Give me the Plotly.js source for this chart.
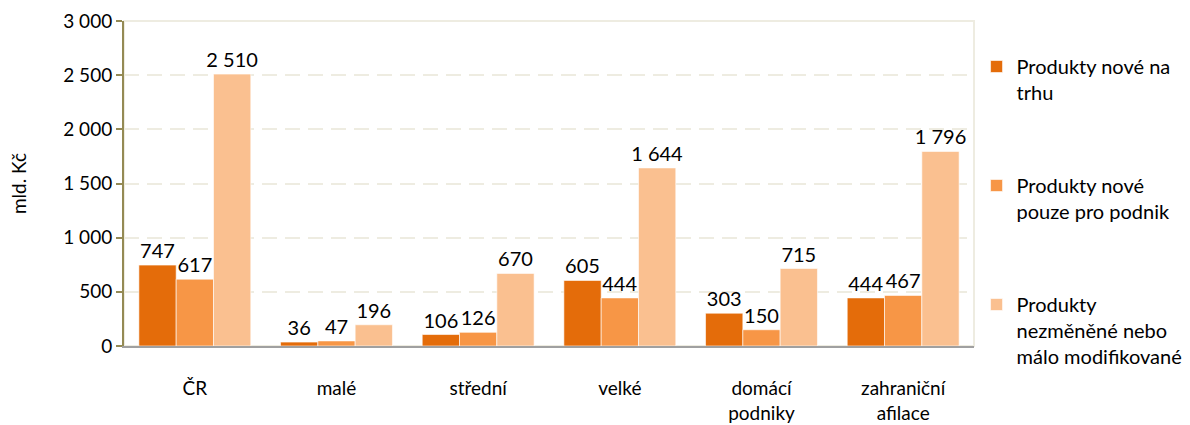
<!DOCTYPE html>
<html>
<head>
<meta charset="utf-8">
<script src="https://cdn.plot.ly/plotly-3.0.1.min.js"></script>
<style>html,body{margin:0;padding:0;background:#fff;}#chart{width:1190px;height:425px;}</style>
</head>
<body>
<div id="chart"></div>
<script>
const categories = ["ČR", "malé", "střední", "velké", "domácí<br>podniky", "zahraniční<br>afilace"];
const seriesNames = ["Produkty nové na<br>trhu", "Produkty nové<br>pouze pro podnik", "Produkty<br>nezměněné nebo<br>málo modifikované"];
const noveNaTrhu = [747, 36, 106, 605, 303, 444];
const novePouzeProPodnik = [617, 47, 126, 444, 150, 467];
const nezmenene = [2510, 196, 670, 1644, 715, 1796];
const yTicks = [0, 500, 1000, 1500, 2000, 2500, 3000];

const colors = ["#E46C0A", "#F79646", "#FAC090"];
const fontFamily = "Lato, 'Open Sans', sans-serif";
const seriesValues = [noveNaTrhu, novePouzeProPodnik, nezmenene];

const traces = seriesValues.map((vals, i) => ({
  type: "bar",
  x: categories,
  y: vals,
  name: seriesNames[i],
  legendgroup: "g" + i,
  marker: {color: colors[i], line: {color: "rgba(255,255,255,0.6)", width: 1}},
  texttemplate: "%{y:,}",
  textposition: "outside",
  constraintext: "none",
  cliponaxis: false,
  textfont: {family: fontFamily, size: 20, color: "#000"},
  hoverinfo: "skip"
}));

const layout = {
  width: 1190,
  height: 425,
  margin: {l: 124, r: 216, t: 21, b: 79, autoexpand: false},
  paper_bgcolor: "#fff",
  plot_bgcolor: "#fff",
  separators: ", ",
  font: {family: fontFamily, size: 19, color: "#000"},
  barmode: "group",
  bargap: 0.21,
  bargroupgap: 0,
  showlegend: true,
  legend: {
    x: 1.003, xanchor: "left",
    y: 0.92, yanchor: "top",
    traceorder: "grouped",
    tracegroupgap: 64,
    valign: "top",
    font: {family: fontFamily, size: 20, color: "#000"},
    bgcolor: "rgba(0,0,0,0)"
  },
  xaxis: {
    type: "category",
    showline: true,
    linecolor: "#A0A0A0",
    linewidth: 2,
    ticks: "",
    showgrid: false,
    tickfont: {family: fontFamily, size: 19, color: "#000"},
    ticklabelstandoff: 24,
    fixedrange: true
  },
  yaxis: {
    range: [0, 3000],
    tickvals: yTicks,
    tickformat: ",d",
    showline: true,
    linecolor: "#948A54",
    linewidth: 2,
    ticks: "outside",
    ticklen: 6,
    tickwidth: 2,
    tickcolor: "#948A54",
    showgrid: true,
    gridcolor: "#EEECE1",
    gridwidth: 2,
    griddash: "15px,8px",
    zeroline: false,
    tickfont: {family: fontFamily, size: 19, color: "#000"},
    title: {text: "mld. Kč", font: {family: fontFamily, size: 19, color: "#000"}, standoff: 32},
    fixedrange: true
  },
  shapes: [{
    type: "rect", xref: "paper", yref: "paper", x0: 0, x1: 1, y0: 0, y1: 1,
    line: {color: "#EEECE1", width: 2}, layer: "below"
  }]
};

Plotly.newPlot("chart", traces, layout, {displayModeBar: false, staticPlot: true});
</script>
</body>
</html>
